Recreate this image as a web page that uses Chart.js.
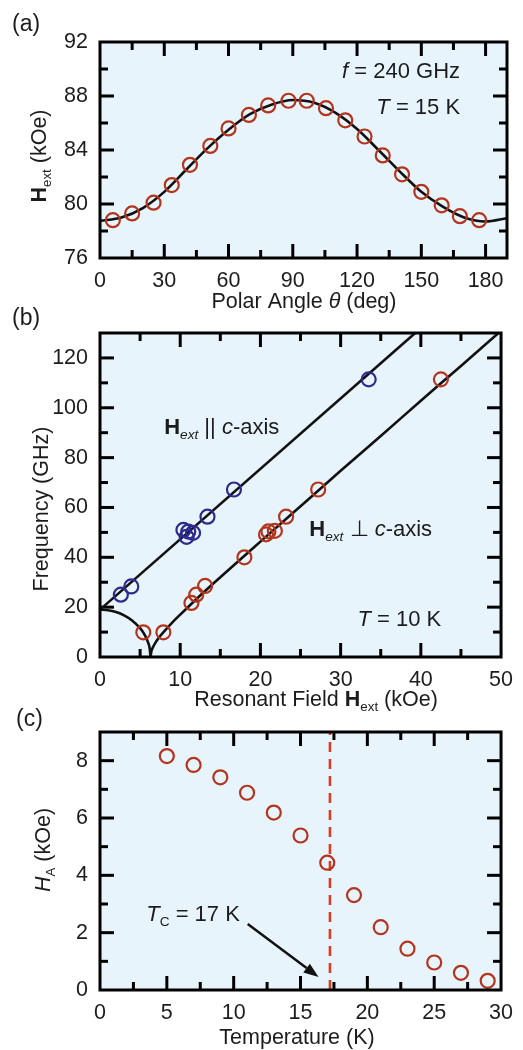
<!DOCTYPE html>
<html>
<head>
<meta charset="utf-8">
<script src="https://cdn.jsdelivr.net/npm/chart.js"></script>
<style>
  body { margin: 0; background: #fff; width: 523px; height: 1050px; position: relative; overflow: hidden; }
  canvas { position: absolute; left: 0; }
</style>
</head>
<body>
<canvas id="chartA" width="523" height="320" style="top:0px"></canvas>
<canvas id="chartB" width="523" height="420" style="top:300px"></canvas>
<canvas id="chartC" width="523" height="360" style="top:690px"></canvas>
<script>
// (a) resonance field vs polar angle, f = 240 GHz, T = 15 K
const angleDeg = [6, 15, 25, 33.5, 42, 51.5, 60, 69.5, 78.5, 88, 96.5, 105.5, 114.5, 123.5, 132, 141, 150, 159.5, 168, 177];
const angleField = [78.8, 79.3, 80.1, 81.4, 82.9, 84.3, 85.6, 86.6, 87.3, 87.65, 87.65, 87.1, 86.2, 85.0, 83.6, 82.2, 80.9, 79.9, 79.1, 78.8];
const fitAngle = [0, 10, 20, 30, 40, 50, 60, 70, 80, 90, 100, 110, 120, 130, 140, 150, 160, 170, 180, 190];
const fitField = [78.75, 79.0, 79.7, 80.9, 82.5, 84.1, 85.5, 86.65, 87.35, 87.7, 87.5, 86.75, 85.55, 84.0, 82.4, 80.9, 79.8, 79.0, 78.7, 78.95];
const angleTicks = [0, 30, 60, 90, 120, 150, 180];
const angleMinor = [15, 45, 75, 105, 135, 165];
const fieldTicksA = [76, 80, 84, 88, 92];
const fieldMinorA = [78, 82, 86, 90];

// (b) frequency vs resonant field, T = 10 K
const fieldPar = [2.6, 3.9, 10.4, 10.8, 11.0, 11.6, 13.4, 16.7, 33.5];
const freqPar = [25.0, 28.3, 51.0, 48.2, 50.3, 49.8, 56.3, 67.2, 111.4];
const fieldPerp = [5.4, 7.9, 11.4, 12.0, 13.1, 18.0, 20.7, 21.0, 21.8, 23.2, 27.2, 42.5];
const freqPerp = [9.9, 9.9, 21.7, 25.0, 28.5, 40.0, 49.2, 50.4, 50.6, 56.3, 67.2, 111.4];
const parLineField = [0, 39.3];
const parLineFreq = [19, 130];
const gapField = [0, 1, 2, 3, 4, 5, 5.5, 6, 6.2, 6.3];
const gapFreq = [19, 18.76, 18.02, 16.71, 14.68, 11.56, 9.27, 5.79, 3.37, 0];
const perpLineField = [6.3, 6.4, 6.6, 7, 7.5, 8, 9, 10, 12, 15, 20, 25, 30, 35, 40, 45, 50];
const perpLineFreq = [0, 2.2, 3.9, 6.2, 8.4, 10.3, 13.8, 17.0, 23.2, 32.0, 46.3, 60.5, 74.7, 88.7, 102.8, 116.8, 130.9];
const fieldTicksB = [0, 10, 20, 30, 40, 50];
const fieldMinorB = [5, 15, 25, 35, 45];
const freqTicks = [0, 20, 40, 60, 80, 100, 120];
const freqMinor = [10, 30, 50, 70, 90, 110];

// (c) anisotropy field vs temperature
const tempK = [5, 7, 9, 11, 13, 15, 17, 19, 21, 23, 25, 27, 29];
const anisoField = [8.16, 7.85, 7.42, 6.88, 6.19, 5.39, 4.44, 3.31, 2.19, 1.44, 0.96, 0.60, 0.32];
const curieTemp = 17.2;
const tempTicks = [0, 5, 10, 15, 20, 25, 30];
const tempMinor = [2.5, 7.5, 12.5, 17.5, 22.5, 27.5];
const anisoTicks = [0, 2, 4, 6, 8];
const anisoMinor = [1, 3, 5, 7];

const FONT = '"Liberation Sans", Arial, Helvetica, sans-serif';
const RED = '#b3341f';
const BLUE = '#2e2a8c';
const PANEL_BG = '#e8f4fb';
const TXT = '#1c1c1c';

function font(size, bold, italic) {
  return (italic ? 'italic ' : '') + (bold ? 'bold ' : '') + size + 'px ' + FONT;
}

function pts(xs, ys) {
  return xs.map((x, i) => ({ x: x, y: ys[i] }));
}

// draw text made of styled pieces (bold, italic, subscript)
function richText(ctx, parts, x, y, align, size, rotate) {
  ctx.save();
  ctx.translate(x, y);
  if (rotate) ctx.rotate(-Math.PI / 2);
  ctx.textBaseline = 'middle';
  ctx.textAlign = 'left';
  ctx.fillStyle = TXT;
  const items = parts.map(p => {
    const s = p.sub ? size * 0.62 : size;
    ctx.font = font(s, p.b, p.i);
    return { p: p, s: s, w: ctx.measureText(p.t).width };
  });
  const total = items.reduce((a, it) => a + it.w, 0);
  let cx = align === 'center' ? -total / 2 : (align === 'right' ? -total : 0);
  items.forEach(it => {
    ctx.font = font(it.s, it.p.b, it.p.i);
    ctx.fillText(it.p.t, cx, it.p.sub ? size * 0.34 : 0);
    cx += it.w;
  });
  ctx.restore();
}

// light blue plot background
const bgPlugin = {
  id: 'plotBg',
  beforeDraw(chart) {
    const a = chart.chartArea, ctx = chart.ctx;
    ctx.save();
    ctx.fillStyle = PANEL_BG;
    ctx.fillRect(a.left, a.top, a.right - a.left, a.bottom - a.top);
    ctx.restore();
  }
};

// closed frame round the plot
const framePlugin = {
  id: 'frame',
  afterDatasetsDraw(chart) {
    const a = chart.chartArea, ctx = chart.ctx;
    ctx.save();
    ctx.strokeStyle = '#000';
    ctx.lineWidth = 3;
    ctx.strokeRect(a.left, a.top, a.right - a.left, a.bottom - a.top);
    ctx.restore();
  }
};

// panel letter, axis titles and notes
function labelPlugin(opt) {
  return {
    id: 'labels',
    afterDraw(chart) {
      const ctx = chart.ctx;
      const xs = chart.scales.x, ys = chart.scales.y;
      if (opt.extra) opt.extra(chart);
      ctx.save();
      ctx.fillStyle = TXT;
      ctx.font = font(23, false, false);
      ctx.textBaseline = 'middle';
      ctx.textAlign = 'left';
      ctx.fillText(opt.panel[0], opt.panel[1], opt.panel[2]);
      ctx.restore();
      const t = opt.xTitle;
      richText(ctx, t.parts, t.x, t.y, 'center', 21.5, false);
      const u = opt.yTitle;
      richText(ctx, u.parts, u.x, u.y, 'center', 21.5, true);
      (opt.notes || []).forEach(n => {
        richText(ctx, n.parts, xs.getPixelForValue(n.x), ys.getPixelForValue(n.y), 'left', 22, false);
      });
    }
  };
}

// inward tick marks on all four sides, drawn as short line datasets
function addTickMarks(chart, t) {
  const xs = chart.scales.x, ys = chart.scales.y, a = chart.chartArea;
  const dx = px => xs.getValueForPixel(a.left + px) - xs.getValueForPixel(a.left);
  const dy = px => ys.getValueForPixel(a.bottom - px) - ys.getValueForPixel(a.bottom);
  const seg = (p, q) => ({
    data: [p, q], showLine: true, pointRadius: 0, borderColor: '#000',
    borderWidth: 3, borderCapStyle: 'butt', fill: false
  });
  const add = [];
  [[t.xMajor, 14], [t.xMinor, 8]].forEach(([vals, len]) => vals.forEach(v => {
    if (v <= xs.min || v >= xs.max) return;
    add.push(seg({ x: v, y: ys.min }, { x: v, y: ys.min + dy(len) }));
    add.push(seg({ x: v, y: ys.max - dy(len) }, { x: v, y: ys.max }));
  }));
  [[t.yMajor, 14], [t.yMinor, 8]].forEach(([vals, len]) => vals.forEach(v => {
    if (v <= ys.min || v >= ys.max) return;
    add.push(seg({ x: xs.min, y: v }, { x: xs.min + dx(len), y: v }));
    add.push(seg({ x: xs.max - dx(len), y: v }, { x: xs.max, y: v }));
  }));
  chart.data.datasets.push(...add);
  chart.update('none');
}

function axes(xMin, xMax, xTicks, xH, yMin, yMax, yTicks) {
  const tickFont = { family: FONT, size: 21.5 };
  return {
    x: {
      type: 'linear', min: xMin, max: xMax,
      afterBuildTicks: s => { s.ticks = xTicks.map(v => ({ value: v })); },
      afterFit: s => { s.height = xH; },
      grid: { display: false, drawTicks: false }, border: { display: false },
      ticks: { font: tickFont, color: TXT, padding: 10, maxRotation: 0, autoSkip: false }
    },
    y: {
      type: 'linear', min: yMin, max: yMax,
      afterBuildTicks: s => { s.ticks = yTicks.map(v => ({ value: v })); },
      afterFit: s => { s.width = 100; },
      grid: { display: false, drawTicks: false }, border: { display: false },
      ticks: { font: tickFont, color: TXT, padding: 12, autoSkip: false }
    }
  };
}

function baseOptions(padTop, scales) {
  return {
    responsive: false,
    animation: false,
    events: [],
    layout: { padding: { top: padTop, right: 16, bottom: 0, left: 0 } },
    scales: scales,
    plugins: { legend: { display: false }, tooltip: { enabled: false } }
  };
}

function circles(data, color) {
  return {
    data: data, showLine: false, pointStyle: 'circle', pointRadius: 7,
    pointBorderWidth: 2.2, pointBorderColor: color, pointBackgroundColor: 'rgba(0,0,0,0)'
  };
}

function curve(data, smooth) {
  return {
    data: data, showLine: true, pointRadius: 0, borderColor: '#111', borderWidth: 2.6,
    tension: smooth ? 0.4 : 0, cubicInterpolationMode: smooth ? 'monotone' : 'default', fill: false
  };
}

// ---- panel (a)
const chartA = new Chart(document.getElementById('chartA'), {
  type: 'scatter',
  data: {
    datasets: [
      circles(pts(angleDeg, angleField), RED),
      curve(pts(fitAngle, fitField), true)
    ]
  },
  options: baseOptions(42, axes(0, 190, angleTicks, 62, 76, 92, fieldTicksA)),
  plugins: [bgPlugin, framePlugin, labelPlugin({
    panel: ['(a)', 12, 25],
    xTitle: { x: 304, y: 302, parts: [{ t: 'Polar Angle ' }, { t: 'θ', i: true }, { t: ' (deg)' }] },
    yTitle: { x: 40, y: 156, parts: [{ t: 'H', b: true }, { t: 'ext', sub: true }, { t: ' (kOe)' }] },
    notes: [
      { x: 113, y: 89.8, parts: [{ t: 'f', i: true }, { t: ' = 240 GHz' }] },
      { x: 129, y: 87.1, parts: [{ t: 'T', i: true }, { t: ' = 15 K' }] }
    ]
  })]
});
addTickMarks(chartA, { xMajor: angleTicks, xMinor: angleMinor, yMajor: fieldTicksA, yMinor: fieldMinorA });

// ---- panel (b)
const chartB = new Chart(document.getElementById('chartB'), {
  type: 'scatter',
  data: {
    datasets: [
      circles(pts(fieldPar, freqPar), BLUE),
      circles(pts(fieldPerp, freqPerp), RED),
      curve(pts(parLineField, parLineFreq), false),
      curve(pts(gapField, gapFreq), true),
      curve(pts(perpLineField, perpLineFreq), true)
    ]
  },
  options: baseOptions(33, axes(0, 50, fieldTicksB, 63, 0, 130, freqTicks)),
  plugins: [bgPlugin, framePlugin, labelPlugin({
    panel: ['(b)', 12, 19],
    xTitle: { x: 316, y: 400, parts: [{ t: 'Resonant Field ' }, { t: 'H', b: true }, { t: 'ext', sub: true }, { t: ' (kOe)' }] },
    yTitle: { x: 42, y: 209, parts: [{ t: 'Frequency (GHz)' }] },
    notes: [
      { x: 8.0, y: 92, parts: [{ t: 'H', b: true }, { t: 'ext', sub: true, i: true }, { t: ' || ' }, { t: 'c', i: true }, { t: '-axis' }] },
      { x: 26.1, y: 50.9, parts: [{ t: 'H', b: true }, { t: 'ext', sub: true, i: true }, { t: ' ⊥ ' }, { t: 'c', i: true }, { t: '-axis' }] },
      { x: 32.1, y: 15, parts: [{ t: 'T', i: true }, { t: ' = 10 K' }] }
    ]
  })]
});
addTickMarks(chartB, { xMajor: fieldTicksB, xMinor: fieldMinorB, yMajor: freqTicks, yMinor: freqMinor });

// ---- panel (c)
const arrowFrom = [11.05, 2.3];
const arrowTo = [16.35, 0.45];

const chartC = new Chart(document.getElementById('chartC'), {
  type: 'scatter',
  data: {
    datasets: [
      circles(pts(tempK, anisoField), RED),
      {
        data: [{ x: curieTemp, y: 0 }, { x: curieTemp, y: 9 }], showLine: true, pointRadius: 0,
        borderColor: '#e0391f', borderWidth: 2.5, borderDash: [10, 7], fill: false
      }
    ]
  },
  options: baseOptions(42, axes(0, 30, tempTicks, 60, 0, 9, anisoTicks)),
  plugins: [bgPlugin, framePlugin, labelPlugin({
    panel: ['(c)', 16, 30],
    xTitle: { x: 297, y: 348, parts: [{ t: 'Temperature (K)' }] },
    yTitle: { x: 44, y: 160, parts: [{ t: 'H', i: true }, { t: 'A', sub: true }, { t: ' (kOe)' }] },
    notes: [
      { x: 3.46, y: 2.62, parts: [{ t: 'T', i: true }, { t: 'C', sub: true }, { t: ' = 17 K' }] }
    ],
    extra(chart) {
      const ctx = chart.ctx;
      const xs = chart.scales.x, ys = chart.scales.y;
      const x0 = xs.getPixelForValue(arrowFrom[0]), y0 = ys.getPixelForValue(arrowFrom[1]);
      const x1 = xs.getPixelForValue(arrowTo[0]), y1 = ys.getPixelForValue(arrowTo[1]);
      const ang = Math.atan2(y1 - y0, x1 - x0);
      const head = 15, half = 5.5;
      ctx.save();
      ctx.strokeStyle = '#111';
      ctx.fillStyle = '#111';
      ctx.lineWidth = 2.5;
      ctx.beginPath();
      ctx.moveTo(x0, y0);
      ctx.lineTo(x1 - head * Math.cos(ang), y1 - head * Math.sin(ang));
      ctx.stroke();
      ctx.beginPath();
      ctx.moveTo(x1, y1);
      ctx.lineTo(x1 - head * Math.cos(ang) + half * Math.sin(ang), y1 - head * Math.sin(ang) - half * Math.cos(ang));
      ctx.lineTo(x1 - head * Math.cos(ang) - half * Math.sin(ang), y1 - head * Math.sin(ang) + half * Math.cos(ang));
      ctx.closePath();
      ctx.fill();
      ctx.restore();
    }
  })]
});
addTickMarks(chartC, { xMajor: tempTicks, xMinor: tempMinor, yMajor: anisoTicks, yMinor: anisoMinor });
</script>
</body>
</html>
